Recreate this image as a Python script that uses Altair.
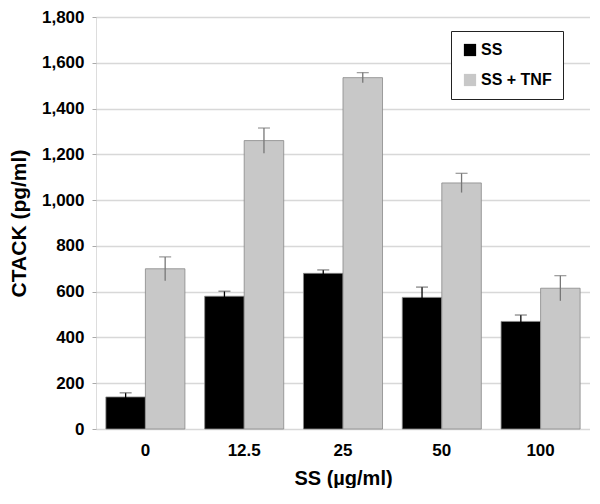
import altair as alt
import pandas as pd

categories = ["0", "12.5", "25", "50", "100"]
series = ["SS", "SS + TNF"]
ss_values = [140, 580, 680, 575, 470]
ss_err = [18, 22, 15, 45, 28]
tnf_values = [700, 1260, 1535, 1075, 615]
tnf_err = [52, 55, 22, 42, 55]

rows = []
for i, c in enumerate(categories):
    rows.append({"dose": c, "series": series[0], "value": ss_values[i], "err": ss_err[i]})
    rows.append({"dose": c, "series": series[1], "value": tnf_values[i], "err": tnf_err[i]})
df = pd.DataFrame(rows)
df["lo"] = df["value"] - df["err"]
df["hi"] = df["value"] + df["err"]

font = "Liberation Sans"

x = alt.X("dose:N", sort=categories,
          scale=alt.Scale(paddingInner=0.2, paddingOuter=0.1),
          axis=alt.Axis(title="SS (µg/ml)", labelAngle=0, labelFont=font, labelFontSize=17,
                        labelFontWeight="bold", labelColor="black", labelPadding=13,
                        titleFont=font, titleFontSize=20, titleFontWeight="bold",
                        titleColor="black", titlePadding=10, ticks=False, domain=False,
                        grid=False))
xoff = alt.XOffset("series:N", sort=series)

y = alt.Y("value:Q", scale=alt.Scale(domain=[0, 1800]),
          axis=alt.Axis(title="CTACK (pg/ml)", values=list(range(0, 1801, 200)), format=",.0f",
                        labelFont=font, labelFontSize=17, labelFontWeight="bold",
                        labelColor="black", labelPadding=8, tickColor="#aaa", tickSize=4,
                        domain=False, gridColor="#d8d8d8", gridWidth=1.5,
                        titleFont=font, titleFontSize=21, titleFontWeight="bold",
                        titleColor="black", titlePadding=12))

bars = alt.Chart(df).mark_bar(stroke="#888", strokeWidth=0.8).encode(
    x=x, xOffset=xoff, y=y,
    fill=alt.Fill("series:N", sort=series,
                  scale=alt.Scale(domain=series, range=["#000000", "#c8c8c8"]),
                  legend=alt.Legend(title=None, orient="none", legendX=355, legendY=14,
                                    direction="vertical", labelFont=font, labelFontSize=16,
                                    labelFontWeight="bold", labelColor="black",
                                    symbolType="square", symbolSize=150, symbolStrokeWidth=0,
                                    strokeColor="#222", fillColor="white",
                                    padding=11, rowPadding=14, labelOffset=3)),
)

err = alt.Chart(df).mark_rule(strokeWidth=1.3).encode(
    x=x, xOffset=xoff, y=alt.Y("lo:Q"), y2="hi:Q",
    color=alt.Color("series:N", scale=alt.Scale(domain=series, range=["#000000", "#777777"]),
                    legend=None),
)
caps = alt.Chart(df).mark_tick(orient="horizontal", size=12, thickness=1.3).encode(
    x=x, xOffset=xoff, y=alt.Y("hi:Q"),
    color=alt.Color("series:N", scale=alt.Scale(domain=series, range=["#555555", "#777777"]),
                    legend=None),
)

chart = alt.layer(bars, err, caps).resolve_scale(color="independent").properties(
    width=494, height=412,
    padding={"left": 0, "top": 0, "right": 0, "bottom": 0},
).configure_view(stroke="#555", strokeWidth=2).configure(background="white")

chart.save("out.html", embed_options={"renderer": "svg", "actions": False})
